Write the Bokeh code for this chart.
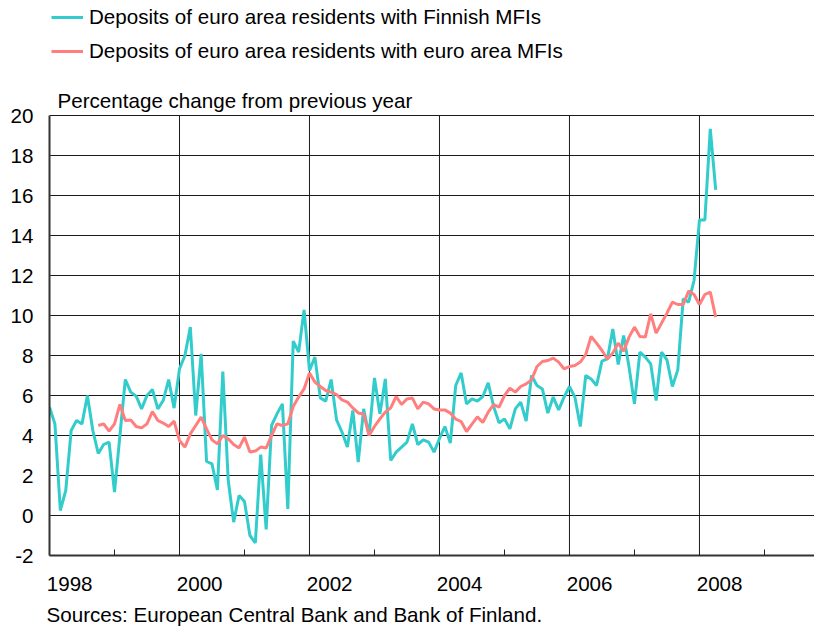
import pandas as pd
from bokeh.plotting import figure
from bokeh.models import (Range1d, FixedTicker, CustomJSTickFormatter, Legend,
                          LegendItem, Label, Title)
from bokeh.embed import file_html
from bokeh.resources import INLINE

# ---- data (monthly, % change from previous year) ----
finnish_start = "1998-01"
finnish_mfi = [
    5.42, 4.58, 0.25, 1.25, 4.25, 4.75, 4.58, 6.0, 4.25, 3.1, 3.55, 3.67,      # 1998
    1.17, 4.0, 6.8, 6.17, 5.97, 5.33, 6.0, 6.3, 5.33, 5.75, 6.8, 5.37,         # 1999
    7.33, 8.0, 9.42, 5.0, 8.08, 2.7, 2.58, 1.28, 7.2, 1.75, -0.33, 1.0,        # 2000
    0.7, -1.0, -1.37, 3.05, -0.7, 4.5, 5.08, 5.58, 0.33, 8.72, 8.17, 10.28,    # 2001
    7.25, 7.92, 5.88, 5.72, 6.8, 4.78, 4.17, 3.42, 5.25, 2.67, 5.33, 4.0,      # 2002
    6.88, 5.08, 6.83, 2.75, 3.17, 3.42, 3.67, 4.58, 3.55, 3.78, 3.67, 3.17,    # 2003
    3.85, 4.45, 3.62, 6.5, 7.13, 5.58, 5.83, 5.72, 5.95, 6.63, 5.45, 4.63,     # 2004
    4.83, 4.33, 5.33, 5.67, 4.72, 7.0, 6.5, 6.33, 5.12, 5.92, 5.28, 5.92,      # 2005
    6.45, 5.92, 4.45, 7.0, 6.83, 6.5, 7.72, 7.83, 9.33, 7.55, 9.0, 7.42,       # 2006
    5.58, 8.17, 7.92, 7.58, 5.75, 8.17, 7.78, 6.45, 7.28, 10.83, 10.67, 11.75, # 2007
    14.78, 14.78, 19.33, 16.28,                                                # 2008
]

euro_start = "1998-10"
euro_mfi = [
    4.5, 4.58, 4.22,                                                           # 1998
    4.58, 5.55, 4.75, 4.78, 4.45, 4.38, 4.58, 5.2, 4.75, 4.62, 4.45, 4.72,     # 1999
    3.75, 3.42, 4.08, 4.5, 4.92, 4.33, 3.78, 3.58, 4.0, 3.83, 3.55, 3.38,      # 2000
    3.92, 3.17, 3.22, 3.42, 3.37, 4.0, 4.58, 4.5, 4.58, 5.45, 5.92, 6.33,      # 2001
    7.12, 6.67, 6.45, 6.25, 6.17, 6.05, 5.78, 5.67, 5.38, 5.13, 5.08, 4.0,     # 2002
    4.45, 4.83, 5.17, 5.38, 5.95, 5.55, 5.83, 5.87, 5.33, 5.67, 5.58, 5.33,    # 2003
    5.28, 5.28, 5.12, 4.82, 4.7, 4.2, 4.57, 4.93, 4.65, 5.17, 5.55, 5.42,      # 2004
    6.0, 6.37, 6.17, 6.45, 6.58, 6.78, 7.45, 7.7, 7.75, 7.87, 7.67, 7.33,      # 2005
    7.45, 7.5, 7.67, 8.05, 8.95, 8.62, 8.25, 7.83, 8.12, 8.62, 8.22, 8.92,     # 2006
    9.42, 8.95, 8.92, 10.08, 9.12, 9.62, 10.12, 10.67, 10.55, 10.55, 11.22, 11.05,  # 2007
    10.55, 11.05, 11.17, 9.92,                                                 # 2008
]

label_years = [1998, 2000, 2002, 2004, 2006, 2008]
grid_years = [2000, 2002, 2004, 2006, 2008]
all_years = list(range(1998, 2010))
y_ticks = list(range(-2, 21, 2))
y_min, y_max = -2, 20

series_names = ["Deposits of euro area residents with Finnish MFIs",
                "Deposits of euro area residents with euro area MFIs"]
y_caption = "Percentage change from previous year"
source_note = "Sources: European Central Bank and  Bank of Finland."


def to_years(start, n):
    d = pd.date_range(start, periods=n, freq="MS")
    return [float(v) for v in (d.year + (d.month - 1) / 12.0)]


FONT = "Liberation Sans"
FS = "20.6px"
CYAN = "#33CCCC"
SALMON = "#FF7F7F"
GRID = "#1a1a1a"

# frame spans the whole upper area (legend & caption live inside it, above y=20)
p = figure(width=814, height=633,
           x_range=Range1d(1998, 2009.77), y_range=Range1d(y_min, 25.75),
           output_backend="svg", toolbar_location=None,
           min_border_left=49, min_border_right=0,
           min_border_top=0, min_border_bottom=78)
p.outline_line_color = None
p.background_fill_color = "white"

# vertical grid lines (even years), bounded to the value axis
p.segment(x0=grid_years, y0=[y_min] * len(grid_years),
          x1=grid_years, y1=[y_max] * len(grid_years),
          line_color=GRID, line_width=1)

r1 = p.line(to_years(finnish_start, len(finnish_mfi)), finnish_mfi,
            line_color=CYAN, line_width=3)
r2 = p.line(to_years(euro_start, len(euro_mfi)), euro_mfi,
            line_color=SALMON, line_width=3)

# x axis: labels left-aligned at year start (label tick shifted), minor ticks each year
xa = p.xaxis[0]
xa.ticker = FixedTicker(ticks=[y + 0.31 for y in label_years], minor_ticks=all_years)
xa.formatter = CustomJSTickFormatter(code="return Math.floor(tick + 0.001).toString()")
xa.major_tick_in = 0
xa.major_tick_out = 0
xa.minor_tick_in = 6
xa.minor_tick_out = 0
xa.minor_tick_line_color = "#222222"
xa.axis_line_color = "#333333"
xa.axis_line_width = 2
xa.major_label_standoff = 21
xa.major_label_text_font = FONT
xa.major_label_text_font_size = FS
xa.major_label_text_color = "black"

ya = p.yaxis[0]
ya.ticker = FixedTicker(ticks=y_ticks)
ya.formatter = CustomJSTickFormatter(code="return tick.toFixed(0)")
ya.bounds = (y_min, y_max)
ya.major_tick_in = 0
ya.major_tick_out = 0
ya.minor_tick_line_color = None
ya.axis_line_color = "#333333"
ya.axis_line_width = 2
ya.major_label_standoff = 16
ya.major_label_text_font = FONT
ya.major_label_text_font_size = FS
ya.major_label_text_color = "black"

p.xgrid.visible = False
p.ygrid.ticker = FixedTicker(ticks=y_ticks)
p.ygrid.grid_line_color = GRID
p.ygrid.grid_line_width = 1

legend = Legend(items=[LegendItem(label=series_names[0], renderers=[r1]),
                       LegendItem(label=series_names[1], renderers=[r2])],
                location=(2, 492), orientation="vertical",
                glyph_width=32, glyph_height=16, label_height=16,
                label_standoff=6, spacing=10, padding=0, margin=0,
                border_line_color=None, background_fill_alpha=0,
                label_text_font=FONT, label_text_font_size=FS,
                label_text_color="black")
p.add_layout(legend, "center")

p.add_layout(Label(x=8, y=455, x_units="screen", y_units="screen", text=y_caption,
                   text_baseline="middle", text_font=FONT, text_font_size=FS,
                   text_color="black"))

p.add_layout(Title(text=source_note, align="left", offset=-3, standoff=15,
                   text_font=FONT, text_font_size=FS, text_font_style="normal",
                   text_color="black"), "below")

open("out.html", "w").write(file_html(p, INLINE))
